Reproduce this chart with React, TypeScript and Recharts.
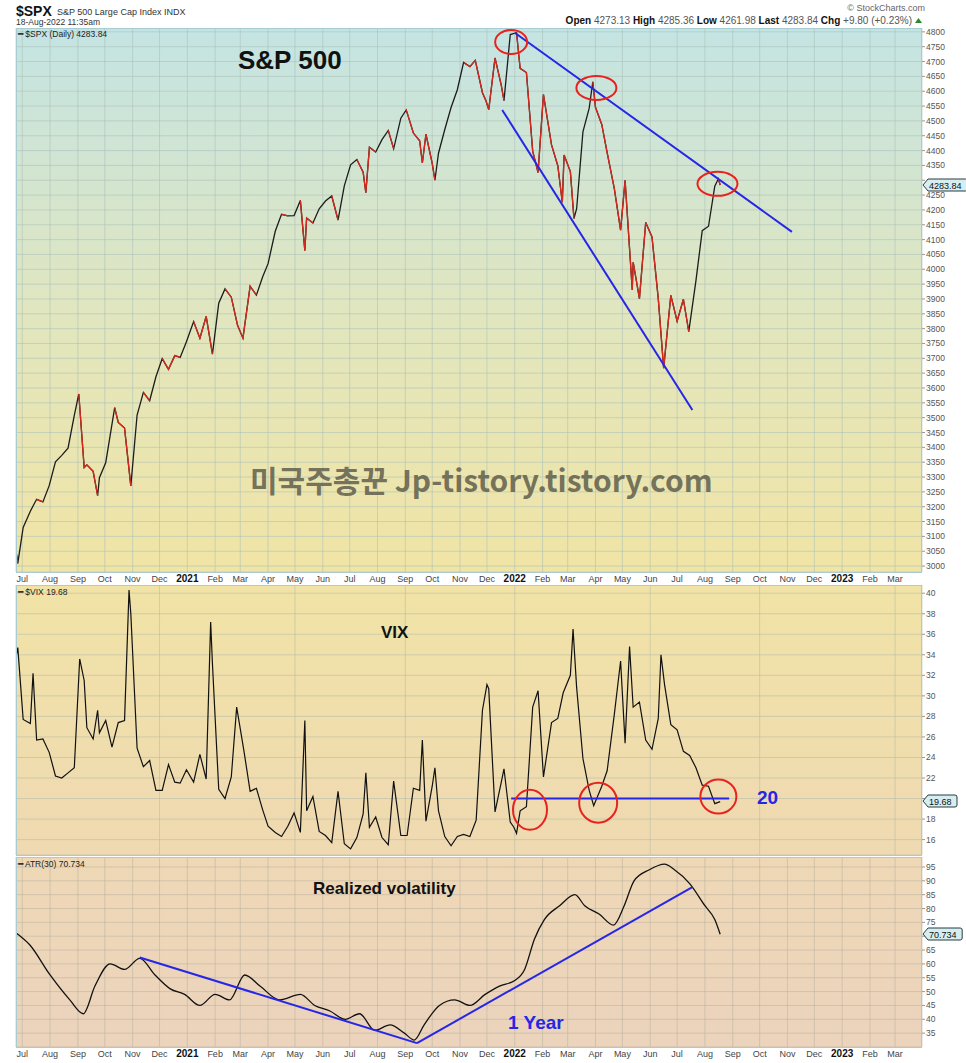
import { LineChart, Line, XAxis, YAxis, CartesianGrid, ReferenceLine, ReferenceDot } from 'recharts';

const t = (s: string) => Date.parse(s + 'T00:00:00Z');

// month ticks on the shared time axis
const monthTicks = [
  '2020-07-01', '2020-08-01', '2020-09-01', '2020-10-01', '2020-11-01', '2020-12-01',
  '2021-01-01', '2021-02-01', '2021-03-01', '2021-04-01', '2021-05-01', '2021-06-01',
  '2021-07-01', '2021-08-01', '2021-09-01', '2021-10-01', '2021-11-01', '2021-12-01',
  '2022-01-01', '2022-02-01', '2022-03-01', '2022-04-01', '2022-05-01', '2022-06-01',
  '2022-07-01', '2022-08-01', '2022-09-01', '2022-10-01', '2022-11-01', '2022-12-01',
  '2023-01-01', '2023-02-01', '2023-03-01',
];
const monthLabels = [
  'Jul', 'Aug', 'Sep', 'Oct', 'Nov', 'Dec',
  '2021', 'Feb', 'Mar', 'Apr', 'May', 'Jun', 'Jul', 'Aug', 'Sep', 'Oct', 'Nov', 'Dec',
  '2022', 'Feb', 'Mar', 'Apr', 'May', 'Jun', 'Jul', 'Aug', 'Sep', 'Oct', 'Nov', 'Dec',
  '2023', 'Feb', 'Mar',
];

// S&P 500 closes
const spxDates = [
  '2020-06-24', '2020-06-26', '2020-07-02', '2020-07-10', '2020-07-17', '2020-07-24', '2020-07-31',
  '2020-08-07', '2020-08-14', '2020-08-21', '2020-08-28', '2020-09-02', '2020-09-08', '2020-09-11',
  '2020-09-18', '2020-09-23', '2020-09-25', '2020-10-02', '2020-10-12', '2020-10-16', '2020-10-23',
  '2020-10-30', '2020-11-06', '2020-11-13', '2020-11-20', '2020-11-27', '2020-12-04', '2020-12-11',
  '2020-12-18', '2020-12-24', '2020-12-31', '2021-01-08', '2021-01-15', '2021-01-22', '2021-01-29',
  '2021-02-05', '2021-02-12', '2021-02-19', '2021-02-26', '2021-03-04', '2021-03-12', '2021-03-19',
  '2021-03-26', '2021-04-01', '2021-04-09', '2021-04-16', '2021-04-23', '2021-04-30', '2021-05-07',
  '2021-05-12', '2021-05-14', '2021-05-21', '2021-05-28', '2021-06-04', '2021-06-11', '2021-06-18',
  '2021-06-25', '2021-07-02', '2021-07-09', '2021-07-16', '2021-07-19', '2021-07-23', '2021-07-30',
  '2021-08-06', '2021-08-13', '2021-08-19', '2021-08-27', '2021-09-02', '2021-09-10', '2021-09-17',
  '2021-09-20', '2021-09-24', '2021-10-01', '2021-10-04', '2021-10-08', '2021-10-15', '2021-10-22',
  '2021-10-29', '2021-11-05', '2021-11-12', '2021-11-18', '2021-11-26', '2021-11-30', '2021-12-03',
  '2021-12-10', '2021-12-17', '2021-12-20', '2021-12-27', '2022-01-03', '2022-01-07', '2022-01-14',
  '2022-01-21', '2022-01-27', '2022-02-02', '2022-02-11', '2022-02-18', '2022-02-23', '2022-02-25',
  '2022-03-04', '2022-03-08', '2022-03-11', '2022-03-18', '2022-03-25', '2022-03-29', '2022-04-01',
  '2022-04-08', '2022-04-14', '2022-04-22', '2022-04-29', '2022-05-04', '2022-05-12', '2022-05-13',
  '2022-05-20', '2022-05-27', '2022-06-03', '2022-06-10', '2022-06-16', '2022-06-24', '2022-07-01',
  '2022-07-08', '2022-07-14', '2022-07-22', '2022-07-29', '2022-08-05', '2022-08-12', '2022-08-16',
  '2022-08-18',
];
const spxClose = [
  3050, 3009, 3130, 3185, 3225, 3216, 3271,
  3351, 3373, 3397, 3508, 3580, 3332, 3341,
  3319, 3237, 3298, 3348, 3534, 3484, 3465,
  3270, 3509, 3585, 3557, 3638, 3699, 3663,
  3709, 3703, 3756, 3824, 3768, 3841, 3714,
  3886, 3934, 3906, 3811, 3768, 3943, 3913,
  3975, 4019, 4128, 4185, 4180, 4181, 4232,
  4063, 4173, 4156, 4204, 4230, 4247, 4166,
  4281, 4352, 4370, 4327, 4258, 4411, 4395,
  4437, 4468, 4406, 4509, 4537, 4459, 4433,
  4358, 4455, 4357, 4300, 4391, 4471, 4545,
  4605, 4697, 4683, 4704, 4595, 4567, 4538,
  4712, 4620, 4568, 4791, 4797, 4677, 4663,
  4398, 4326, 4589, 4419, 4349, 4226, 4385,
  4329, 4171, 4204, 4463, 4543, 4632, 4546,
  4488, 4393, 4272, 4132, 4300, 3930, 4024,
  3901, 4158, 4109, 3901, 3667, 3912, 3825,
  3899, 3790, 3962, 4130, 4145, 4280, 4305,
  4284,
];

// VIX closes
const vixDates = [
  '2020-06-24', '2020-06-26', '2020-07-02', '2020-07-10', '2020-07-13', '2020-07-17', '2020-07-24',
  '2020-07-31', '2020-08-07', '2020-08-14', '2020-08-21', '2020-08-28', '2020-09-03', '2020-09-08',
  '2020-09-11', '2020-09-18', '2020-09-23', '2020-09-25', '2020-10-02', '2020-10-09', '2020-10-16',
  '2020-10-23', '2020-10-28', '2020-10-30', '2020-11-06', '2020-11-13', '2020-11-20', '2020-11-27',
  '2020-12-04', '2020-12-11', '2020-12-18', '2020-12-24', '2020-12-31', '2021-01-08', '2021-01-15',
  '2021-01-22', '2021-01-27', '2021-01-29', '2021-02-05', '2021-02-12', '2021-02-19', '2021-02-25',
  '2021-03-05', '2021-03-12', '2021-03-19', '2021-03-26', '2021-04-01', '2021-04-09', '2021-04-16',
  '2021-04-23', '2021-04-30', '2021-05-07', '2021-05-12', '2021-05-14', '2021-05-21', '2021-05-28',
  '2021-06-04', '2021-06-11', '2021-06-18', '2021-06-25', '2021-07-02', '2021-07-09', '2021-07-16',
  '2021-07-19', '2021-07-23', '2021-07-30', '2021-08-06', '2021-08-13', '2021-08-19', '2021-08-27',
  '2021-09-03', '2021-09-10', '2021-09-17', '2021-09-20', '2021-09-24', '2021-10-01', '2021-10-04',
  '2021-10-08', '2021-10-15', '2021-10-22', '2021-10-29', '2021-11-05', '2021-11-12', '2021-11-19',
  '2021-11-26', '2021-12-01', '2021-12-03', '2021-12-10', '2021-12-17', '2021-12-20', '2021-12-27',
  '2021-12-31', '2022-01-03', '2022-01-07', '2022-01-14', '2022-01-21', '2022-01-27', '2022-02-02',
  '2022-02-11', '2022-02-18', '2022-02-24', '2022-03-04', '2022-03-07', '2022-03-11', '2022-03-18',
  '2022-03-25', '2022-03-30', '2022-04-08', '2022-04-14', '2022-04-22', '2022-04-29', '2022-05-04',
  '2022-05-09', '2022-05-13', '2022-05-20', '2022-05-27', '2022-06-03', '2022-06-10', '2022-06-13',
  '2022-06-17', '2022-06-24', '2022-07-01', '2022-07-08', '2022-07-15', '2022-07-22', '2022-07-29',
  '2022-08-05', '2022-08-12', '2022-08-18',
];
const vixClose = [
  33.8, 34.7, 27.7, 27.3, 32.2, 25.7, 25.8,
  24.5, 22.2, 22.0, 22.5, 23.0, 33.6, 31.5,
  26.9, 25.8, 28.6, 26.4, 27.6, 25.0, 27.4,
  27.6, 40.3, 38.0, 24.9, 23.1, 23.7, 20.8,
  20.8, 23.3, 21.6, 21.5, 22.8, 21.6, 24.3,
  21.9, 37.2, 33.1, 20.9, 20.0, 22.1, 28.9,
  24.7, 20.7, 21.0, 18.9, 17.3, 16.7, 16.3,
  17.3, 18.6, 16.7, 27.6, 18.8, 20.2, 16.8,
  16.4, 15.7, 20.7, 15.6, 15.1, 16.2, 18.5,
  22.5, 17.2, 18.2, 16.2, 15.5, 21.7, 16.4,
  16.4, 21.0, 20.8, 25.7, 17.8, 21.2, 23.0,
  18.8, 16.3, 15.4, 16.3, 16.5, 16.3, 17.9,
  28.6, 31.1, 30.7, 18.7, 21.6, 22.9, 17.7,
  17.2, 16.6, 18.8, 19.2, 28.9, 30.5, 22.1,
  27.4, 27.8, 30.3, 32.0, 36.5, 30.8, 23.9,
  20.8, 19.3, 21.2, 22.7, 28.2, 33.4, 25.4,
  34.8, 28.9, 29.4, 25.7, 24.8, 27.8, 34.0,
  31.1, 27.2, 26.7, 24.6, 24.2, 23.0, 21.3,
  21.2, 19.5, 19.7,
];

// ATR(30)
const atrDates = [
  '2020-06-25', '2020-07-09', '2020-08-01', '2020-08-23', '2020-09-07', '2020-09-20', '2020-10-07',
  '2020-10-23', '2020-11-09', '2020-11-26', '2020-12-13', '2020-12-29', '2021-01-15', '2021-02-01',
  '2021-02-17', '2021-03-06', '2021-03-23', '2021-04-14', '2021-05-07', '2021-05-23', '2021-06-09',
  '2021-06-26', '2021-07-12', '2021-07-29', '2021-08-15', '2021-08-31', '2021-09-11', '2021-09-22',
  '2021-10-09', '2021-10-26', '2021-11-12', '2021-11-29', '2021-12-15', '2022-01-01', '2022-01-12',
  '2022-01-23', '2022-02-03', '2022-02-20', '2022-03-09', '2022-03-20', '2022-04-05', '2022-04-21',
  '2022-05-03', '2022-05-14', '2022-05-31', '2022-06-17', '2022-06-28', '2022-07-15', '2022-08-01',
  '2022-08-12', '2022-08-18',
];
const atrValue = [
  71, 67, 56, 47, 42, 52, 60,
  58, 62, 56, 51, 49, 45, 49,
  47, 56, 52, 47, 49, 45, 43,
  40, 42, 36, 38, 35, 32.5, 38,
  45, 47, 45, 49, 52, 54, 58,
  69, 76, 81, 85, 81, 78, 74,
  81, 90, 94, 96, 94, 89, 81,
  76, 70.7,
];

const spxRows = spxDates.map((d, i) => {
  const c = spxClose[i];
  const prevDown = i > 0 && c < spxClose[i - 1];
  const nextDown = i < spxClose.length - 1 && spxClose[i + 1] < c;
  return { x: t(d), close: c, down: prevDown || nextDown ? c : null };
});
const vixRows = vixDates.map((d, i) => ({ x: t(d), vix: vixClose[i] }));
const atrRows = atrDates.map((d, i) => ({ x: t(d), atr: atrValue[i] }));

const xTicks = monthTicks.map(t);
const xDomain = [t('2020-06-24'), t('2023-03-31')];
const spxTicks = Array.from({ length: 37 }, (_, i) => 3000 + i * 50);
const vixTicks = [16, 18, 20, 22, 24, 26, 28, 30, 32, 34, 36, 38, 40];
const atrTicks = [35, 40, 45, 50, 55, 60, 65, 70, 75, 80, 85, 90, 95];

const FONT = '"Liberation Sans", Arial, sans-serif';
const BLUE = '#2626e6';
const RED = '#e8231f';
const W = 966;

const MonthTick = (props: any) => {
  const { x, y, payload } = props;
  const i = xTicks.indexOf(payload.value);
  const label = monthLabels[i] ?? '';
  const isYear = /^\d{4}$/.test(label);
  return (
    <text x={x} y={y + 10} textAnchor="middle" fontFamily={FONT} fontSize={isYear ? 10 : 9}
      fontWeight={isYear ? 700 : 400} fill={isYear ? '#111' : '#444'}>
      {label}
    </text>
  );
};

// right-axis tick; the value under the last-value bubble is left out
const ValueTick = (hidden: number) => (props: any) => {
  const { x, y, payload } = props;
  if (payload.value === hidden) return <g />;
  return (
    <text x={x} y={y + 3} textAnchor="start" fontFamily={FONT} fontSize={8.5} fill="#555">{payload.value}</text>
  );
};

const Ellipse = (rx: number, ry: number) => (p: any) => (
  <ellipse cx={p.cx} cy={p.cy} rx={rx} ry={ry} fill="none" stroke={RED} strokeWidth={2} />
);

const Panel = ({ top, height }: { top: number; height: number }) => (
  <div style={{ position: 'absolute', left: 16, top, width: 906, height, boxSizing: 'border-box', border: '1px solid #a9cbd2', pointerEvents: 'none' }} />
);

const Bubble = ({ y, text }: { y: number; text: string }) => (
  <g>
    <path d={`M923 ${y} L928 ${y - 6} H${929 + text.length * 5.2} a2 2 0 0 1 2 2 V${y + 4} a2 2 0 0 1 -2 2 H928 Z`}
      fill="#d6eef0" stroke="#2b3b40" strokeWidth={1} />
    <text x={929} y={y + 3.5} fontFamily={FONT} fontSize={9} fill="#111">{text}</text>
  </g>
);

export default function App() {
  return (
    <div style={{ position: 'absolute', left: 0, top: 0, width: W, height: 1063, background: '#fff', overflow: 'hidden' }}>
      {/* S&P 500 */}
      <div style={{ position: 'absolute', left: 0, top: 28 }}>
        <LineChart width={W} height={560} data={spxRows} margin={{ top: 0, right: 0, bottom: 0, left: 16 }}>
          <defs>
            <linearGradient id="g1" x1="0" y1="0" x2="0" y2="1">
              <stop offset="0%" stopColor="#c4e4e3" />
              <stop offset="55%" stopColor="#e2e6bd" />
              <stop offset="100%" stopColor="#f1e4a5" />
            </linearGradient>
          </defs>
          <CartesianGrid fill="url(#g1)" fillOpacity={1} stroke="#a9c0b8" strokeOpacity={0.55} />
          <XAxis dataKey="x" type="number" scale="time" domain={xDomain} ticks={xTicks} allowDataOverflow
            height={16} tickSize={0} tickMargin={0} axisLine={false} tick={<MonthTick />} interval={0} />
          <YAxis orientation="right" width={44} domain={[2980, 4813]} ticks={spxTicks} allowDataOverflow
            axisLine={false} tickSize={3} tickMargin={1} tickLine={{ stroke: '#999' }} tick={ValueTick(4300)} interval={0} />
          <Line dataKey="close" stroke="#1c1c1c" strokeWidth={1.3} dot={false} isAnimationActive={false} />
          <Line dataKey="down" stroke="#d42a1e" strokeWidth={1.3} dot={false} connectNulls={false} isAnimationActive={false} />
          <ReferenceLine segment={[{ x: t('2022-01-01'), y: 4797 }, { x: t('2022-11-06'), y: 4126 }]} stroke={BLUE} strokeWidth={2} ifOverflow="visible" />
          <ReferenceLine segment={[{ x: t('2021-12-18'), y: 4537 }, { x: t('2022-07-18'), y: 3526 }]} stroke={BLUE} strokeWidth={2} ifOverflow="visible" />
          <ReferenceDot x={t('2021-12-28')} y={4766} shape={Ellipse(16, 12)} ifOverflow="visible" />
          <ReferenceDot x={t('2022-04-02')} y={4611} shape={Ellipse(20, 12)} ifOverflow="visible" />
          <ReferenceDot x={t('2022-08-15')} y={4288} shape={Ellipse(20, 12)} ifOverflow="visible" />
        </LineChart>
      </div>

      {/* VIX */}
      <div style={{ position: 'absolute', left: 0, top: 585 }}>
        <LineChart width={W} height={270} data={vixRows} margin={{ top: 0, right: 0, bottom: 0, left: 16 }}>
          <defs>
            <linearGradient id="g2" x1="0" y1="0" x2="0" y2="1">
              <stop offset="0%" stopColor="#f1e3a6" />
              <stop offset="100%" stopColor="#efd9b2" />
            </linearGradient>
          </defs>
          <CartesianGrid fill="url(#g2)" fillOpacity={1} stroke="#b3bba8" strokeOpacity={0.55} />
          <XAxis dataKey="x" type="number" scale="time" domain={xDomain} ticks={xTicks} allowDataOverflow hide />
          <YAxis orientation="right" width={44} domain={[14.5, 40.8]} ticks={vixTicks} allowDataOverflow
            axisLine={false} tickSize={3} tickMargin={1} tickLine={{ stroke: '#999' }} tick={ValueTick(20)} interval={0} />
          <Line dataKey="vix" stroke="#111" strokeWidth={1.2} dot={false} isAnimationActive={false} />
          <ReferenceLine segment={[{ x: t('2021-12-28'), y: 20 }, { x: t('2022-08-28'), y: 20 }]} stroke={BLUE} strokeWidth={2} />
          <ReferenceDot x={t('2022-01-18')} y={18.9} shape={Ellipse(17, 20)} ifOverflow="visible" />
          <ReferenceDot x={t('2022-04-04')} y={19.6} shape={Ellipse(19, 20)} ifOverflow="visible" />
          <ReferenceDot x={t('2022-08-16')} y={20.2} shape={Ellipse(18, 17)} ifOverflow="visible" />
        </LineChart>
      </div>

      {/* ATR(30) */}
      <div style={{ position: 'absolute', left: 0, top: 857 }}>
        <LineChart width={W} height={206} data={atrRows} margin={{ top: 0, right: 0, bottom: 0, left: 16 }}>
          <defs>
            <linearGradient id="g3" x1="0" y1="0" x2="0" y2="1">
              <stop offset="0%" stopColor="#efd8b5" />
              <stop offset="100%" stopColor="#ebd3bd" />
            </linearGradient>
          </defs>
          <CartesianGrid fill="url(#g3)" fillOpacity={1} stroke="#b9b3a0" strokeOpacity={0.55} />
          <XAxis dataKey="x" type="number" scale="time" domain={xDomain} ticks={xTicks} allowDataOverflow
            height={16} tickSize={0} tickMargin={0} axisLine={false} tick={<MonthTick />} interval={0} />
          <YAxis orientation="right" width={44} domain={[30, 98.6]} ticks={atrTicks} allowDataOverflow
            axisLine={false} tickSize={3} tickMargin={1} tickLine={{ stroke: '#999' }} tick={ValueTick(70)} interval={0} />
          <Line dataKey="atr" type="monotone" stroke="#111" strokeWidth={1.3} dot={false} isAnimationActive={false} />
          <ReferenceLine segment={[{ x: t('2020-11-09'), y: 62.3 }, { x: t('2021-09-14'), y: 31.4 }]} stroke={BLUE} strokeWidth={2} ifOverflow="visible" />
          <ReferenceLine segment={[{ x: t('2021-09-14'), y: 31.4 }, { x: t('2022-07-18'), y: 87.7 }]} stroke={BLUE} strokeWidth={2} ifOverflow="visible" />
        </LineChart>
      </div>

      <Panel top={28} height={545} />
      <Panel top={585} height={271} />
      <Panel top={857} height={191} />

      {/* header, legends and notes */}
      <svg width={W} height={1063} style={{ position: 'absolute', left: 0, top: 0, pointerEvents: 'none' }}>
        <text x={16} y={16} fontFamily={FONT} fontSize={14} fontWeight={700} fill="#111">$SPX</text>
        <text x={57} y={15} fontFamily={FONT} fontSize={9} fill="#333">S&amp;P 500 Large Cap Index  INDX</text>
        <text x={16} y={25} fontFamily={FONT} fontSize={8.5} fill="#333">18-Aug-2022 11:35am</text>
        <text x={925} y={11} textAnchor="end" fontFamily={FONT} fontSize={9} fill="#666">© StockCharts.com</text>
        <text x={912} y={24} textAnchor="end" fontFamily={FONT} fontSize={10} fill="#555">
          <tspan fontWeight={700} fill="#111">Open</tspan> 4273.13  <tspan fontWeight={700} fill="#111">High</tspan> 4285.36  <tspan fontWeight={700} fill="#111">Low</tspan> 4261.98  <tspan fontWeight={700} fill="#111">Last</tspan> 4283.84  <tspan fontWeight={700} fill="#111">Chg</tspan> +9.80 (+0.23%)
        </text>
        <path d="M915 23 L922 23 L918.5 18 Z" fill="#2a8a2a" />

        <text x={18} y={37} fontFamily={FONT} fontSize={8.5} fill="#222">━ $SPX (Daily) 4283.84</text>
        <text x={18} y={595} fontFamily={FONT} fontSize={8.5} fill="#222">━ $VIX 19.68</text>
        <text x={18} y={867} fontFamily={FONT} fontSize={8.5} fill="#222">━ ATR(30) 70.734</text>

        <text x={238} y={69} fontFamily={FONT} fontSize={26} fontWeight={700} fill="#111">S&amp;P 500</text>
        <text x={381} y={638} fontFamily={FONT} fontSize={17} fontWeight={700} fill="#111">VIX</text>
        <text x={313} y={894} fontFamily={FONT} fontSize={17} fontWeight={700} fill="#111">Realized volatility</text>
        <text x={508} y={1029} fontFamily={FONT} fontSize={19} fontWeight={700} fill={BLUE}>1 Year</text>
        <text x={757} y={804} fontFamily={FONT} fontSize={19} fontWeight={700} fill={BLUE}>20</text>

        <text x={250} y={492} fontFamily='"Noto Sans CJK KR", "Noto Sans", sans-serif' fontSize={30} fontWeight={700}
          fill="#5e5e4c" fillOpacity={0.85}>미국주총꾼 Jp-tistory.tistory.com</text>

        <Bubble y={185} text="4283.84" />
        <Bubble y={801} text="19.68" />
        <Bubble y={934} text="70.734" />
      </svg>
    </div>
  );
}
